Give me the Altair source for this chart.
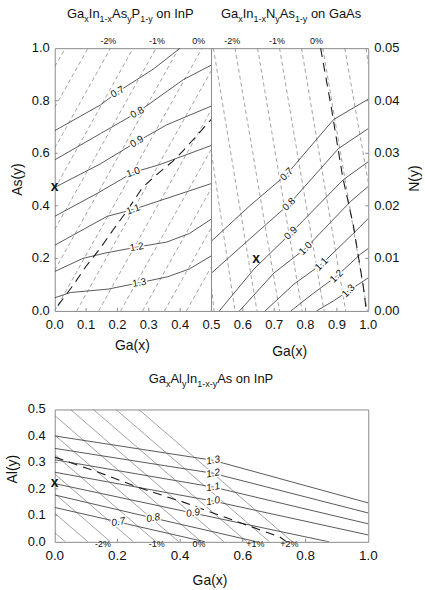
import altair as alt
import pandas as pd

FONT = "Liberation Sans"
SOLID = "#474747"
THIN = "#7a7a7a"
LONG = "#1a1a1a"
FRAME = "#8a8a8a"
INK = "#111111"
LEVELS = ["0.7", "0.8", "0.9", "1.0", "1.1", "1.2", "1.3"]

# ---------------- Panel A : GaxIn1-xAsyP1-y on InP ----------------
A_gap_x = [
    [0.0, 0.146, 0.20, 0.314, 0.40],
    [0.0, 0.146, 0.263, 0.41, 0.5],
    [0.0, 0.146, 0.262, 0.357, 0.5],
    [0.0, 0.135, 0.25, 0.335, 0.5],
    [0.0, 0.167, 0.25, 0.5],
    [0.0, 0.09, 0.16, 0.262, 0.357, 0.43, 0.5],
    [0.0, 0.05, 0.17, 0.27, 0.36, 0.43, 0.5],
]
A_gap_y = [
    [0.686, 0.784, 0.833, 0.92, 1.0],
    [0.575, 0.675, 0.755, 0.88, 0.936],
    [0.47, 0.56, 0.644, 0.708, 0.78],
    [0.36, 0.447, 0.527, 0.557, 0.63],
    [0.25, 0.36, 0.386, 0.485],
    [0.15, 0.20, 0.22, 0.243, 0.262, 0.295, 0.35],
    [0.05, 0.07, 0.083, 0.107, 0.13, 0.16, 0.21],
]
A_lab_x = [0.20, 0.263, 0.262, 0.25, 0.25, 0.262, 0.27]
A_lab_y = [0.833, 0.755, 0.644, 0.527, 0.386, 0.243, 0.107]
A_st_x1 = [0, 0, 0, 0, 0, 0, 0, 0.07, 0.14, 0.21, 0.28, 0.35, 0.42]
A_st_y1 = [0.93, 0.775, 0.62, 0.465, 0.31, 0.155, 0, 0, 0, 0, 0, 0, 0]
A_st_x2 = [0.034, 0.106, 0.178, 0.25, 0.323, 0.396, 0.47, 0.5, 0.5, 0.5, 0.5, 0.5, 0.5]
A_st_y2 = [1, 1, 1, 1, 1, 1, 1, 0.916, 0.767, 0.617, 0.468, 0.318, 0.169]
A_ld_x = [0.01, 0.06, 0.10, 0.146, 0.187, 0.23, 0.28, 0.326, 0.377, 0.41, 0.47, 0.5]
A_ld_y = [0.02, 0.10, 0.17, 0.24, 0.31, 0.38, 0.47, 0.52, 0.57, 0.61, 0.69, 0.73]
A_cross = [0.0, 0.473]
A_slab = ["-2%", "-1%", "0%"]
A_slab_x = [0.171, 0.326, 0.459]
A_yticks = [0.0, 0.2, 0.4, 0.6, 0.8, 1.0]
A_ylabels = ["0.0", "0.2", "0.4", "0.6", "0.8", "1.0"]

# ---------------- Panel B : GaxIn1-xNyAs1-y on GaAs ----------------
B_gap_x = [
    [0.5, 0.62, 0.74, 0.889, 1.0],
    [0.5, 0.62, 0.747, 0.905, 1.0],
    [0.525, 0.636, 0.753, 0.921, 1.0],
    [0.589, 0.699, 0.80, 0.943, 1.0],
    [0.671, 0.763, 0.851, 0.962, 1.0],
    [0.753, 0.826, 0.899, 0.975, 1.0],
    [0.835, 0.889, 0.937, 1.0],
]
B_gap_y = [
    [0.0133, 0.0199, 0.0260, 0.0364, 0.0403],
    [0.0072, 0.0136, 0.0203, 0.0309, 0.0347],
    [0.0, 0.0080, 0.0148, 0.0250, 0.0284],
    [0.0, 0.0072, 0.0119, 0.0208, 0.0237],
    [0.0, 0.0051, 0.0089, 0.0153, 0.0176],
    [0.0, 0.0034, 0.0066, 0.0108, 0.0119],
    [0.0, 0.0019, 0.0038, 0.0063],
]
B_lab_x = [0.74, 0.747, 0.753, 0.80, 0.851, 0.899, 0.937]
B_lab_y = [0.0260, 0.0203, 0.0148, 0.0119, 0.0089, 0.0066, 0.0038]
B_st_x1 = [0.5, 0.5, 0.506, 0.575, 0.647, 0.717, 0.787, 0.855, 0.925, 0.993]
B_st_y1 = [0.0045, 0.030, 0.05, 0.05, 0.05, 0.05, 0.05, 0.05, 0.05, 0.05]
B_st_x2 = [0.508, 0.575, 0.645, 0.717, 0.789, 0.859, 0.928, 0.997, 1.0, 1.0]
B_st_y2 = [0.0, 0.0, 0.0, 0.0, 0.0, 0.0, 0.0, 0.0, 0.0245, 0.047]
B_ld_x = [0.848, 0.883, 0.918, 0.953, 0.984, 0.994]
B_ld_y = [0.05, 0.0384, 0.0256, 0.0161, 0.0047, 0.0]
B_cross = [0.642, 0.0098]
B_slab = ["-2%", "-1%", "0%"]
B_slab_x = [0.566, 0.709, 0.835]
B_yticks = [0.0, 0.01, 0.02, 0.03, 0.04, 0.05]
B_ylabels = ["0.00", "0.01", "0.02", "0.03", "0.04", "0.05"]

TOP_xticks = [0.0, 0.1, 0.2, 0.3, 0.4, 0.5, 0.6, 0.7, 0.8, 0.9, 1.0]
TOP_xlabels = ["0.0", "0.1", "0.2", "0.3", "0.4", "0.5", "0.6", "0.7", "0.8", "0.9", "1.0"]

# ---------------- Panel C : GaxAlyIn1-x-yAs on InP ----------------
C_gap_x = [
    [0.0, 0.203, 0.48],
    [0.0, 0.314, 0.645],
    [0.0, 0.44, 0.875],
    [0.0, 0.505, 1.0],
    [0.0, 0.505, 1.0],
    [0.0, 0.505, 1.0],
    [0.0, 0.505, 1.0],
]
C_gap_y = [
    [0.13, 0.075, 0.0],
    [0.177, 0.09, 0.0],
    [0.22, 0.109, 0.0],
    [0.263, 0.154, 0.026],
    [0.31, 0.207, 0.068],
    [0.353, 0.259, 0.109],
    [0.40, 0.308, 0.147],
]
C_lab_x = [0.203, 0.314, 0.441, 0.505, 0.505, 0.505, 0.505]
C_lab_y = [0.075, 0.09, 0.109, 0.154, 0.207, 0.259, 0.308]
C_st_x1 = [0, 0, 0, 0, 0, 0, 0, 0.05, 0.123, 0.195, 0.268]
C_st_y1 = [0.034, 0.108, 0.182, 0.256, 0.330, 0.403, 0.477, 0.5, 0.5, 0.5, 0.5]
C_st_x2 = [0.034, 0.106, 0.178, 0.251, 0.323, 0.396, 0.468, 0.54, 0.613, 0.685, 0.758]
C_st_y2 = [0, 0, 0, 0, 0, 0, 0, 0, 0, 0, 0]
C_ld_x = [0.0, 0.146, 0.273, 0.41, 0.505, 0.594, 0.717, 0.74]
C_ld_y = [0.32, 0.26, 0.203, 0.15, 0.109, 0.071, 0.019, 0.0]
C_cross = [0.0, 0.222]
C_slab = ["-2%", "-1%", "0%", "+1%", "+2%"]
C_slab_x = [0.154, 0.325, 0.46, 0.64, 0.748]
C_xticks = [0.0, 0.2, 0.4, 0.6, 0.8, 1.0]
C_xlabels = ["0.0", "0.2", "0.4", "0.6", "0.8", "1.0"]
C_yticks = [0.0, 0.1, 0.2, 0.3, 0.4, 0.5]
C_ylabels = ["0.0", "0.1", "0.2", "0.3", "0.4", "0.5"]

A_title = [("Ga", 0), ("x", 1), ("In", 0), ("1-x", 1), ("As", 0), ("y", 1), ("P", 0), ("1-y", 1), (" on InP", 0)]
B_title = [("Ga", 0), ("x", 1), ("In", 0), ("1-x", 1), ("N", 0), ("y", 1), ("As", 0), ("1-y", 1), (" on GaAs", 0)]
C_title = [("Ga", 0), ("x", 1), ("Al", 0), ("y", 1), ("In", 0), ("1-x-y", 1), ("As", 0), (" on InP", 0)]

# ---------------- helpers ----------------
CW = {'G': 778, 'a': 556, 'x': 500, 'I': 278, 'n': 556, '1': 556, '-': 333, 'A': 667,
      's': 500, 'y': 500, 'P': 667, ' ': 278, 'o': 556, 'N': 722, 'l': 222}


def tw(s, fs):
    return sum(CW.get(c, 556) for c in s) * fs / 1000.0


def sc(dom):
    return alt.Scale(domain=dom, nice=False, zero=False)


XS = sc([0, 1])


def X():
    return alt.X("x:Q", scale=XS, axis=None)


def line_df(xs, ys):
    rows = []
    for lv, xl, yl in zip(LEVELS, xs, ys):
        for i, (a, b) in enumerate(zip(xl, yl)):
            rows.append({"lvl": lv, "i": i, "x": a, "y": b})
    return pd.DataFrame(rows)


def lab_df(xs, ys, idx):
    return pd.DataFrame({"x": [xs[i] for i in idx], "y": [ys[i] for i in idx],
                         "t": [LEVELS[i] for i in idx]})


def txt(t, x, y, size=14, angle=None, align="center", baseline="middle"):
    kw = dict(font=FONT, fontSize=size, align=align, baseline=baseline, color=INK)
    if angle is not None:
        kw["angle"] = angle
    return alt.Chart(pd.DataFrame({"t": [t]})).mark_text(**kw).encode(
        x=alt.value(x), y=alt.value(y), text="t:N")


def title_layers(pieces, cx, base, fs=13, fss=9):
    widths = [tw(t, fss if s else fs) for t, s in pieces]
    x = cx - sum(widths) / 2.0
    out = []
    for (t, s), wd in zip(pieces, widths):
        tt = t.lstrip(" ")
        size = fss if s else fs
        off = wd - tw(tt, size)
        out.append(txt(tt, x + off, base + (4 if s else 0), size=size, align="left",
                       baseline="alphabetic"))
        x += wd
    return out


def data_layers(ydom, h, st, gx, gy, labels, ldx, ldy, cross, slab, slab_x, slab_y,
                dash, ital="normal"):
    ys = sc(ydom)

    def Y():
        return alt.Y("y:Q", scale=ys, axis=None)

    L = []
    sdf = pd.DataFrame({"x": st[0], "y": st[1], "x2": st[2], "y2": st[3]})
    rule_kw = dict(color=THIN, strokeWidth=0.7, clip=True)
    if dash:
        rule_kw["strokeDash"] = [4, 3]
    L.append(alt.Chart(sdf).mark_rule(**rule_kw).encode(x=X(), y=Y(), x2="x2:Q", y2="y2:Q"))
    L.append(alt.Chart(line_df(gx, gy)).mark_line(color=SOLID, strokeWidth=0.9, clip=True)
             .encode(x=X(), y=Y(), detail="lvl:N", order="i:Q"))
    L.append(alt.Chart(pd.DataFrame({"x": ldx, "y": ldy})).mark_line(
        color=LONG, strokeWidth=1.1, strokeDash=[9, 6], clip=True).encode(x=X(), y=Y()))
    for df, ang in labels:
        L.append(alt.Chart(df).mark_text(font=FONT, fontSize=10, angle=ang, fontStyle=ital,
                                         color="white", stroke="white", strokeWidth=3)
                 .encode(x=X(), y=Y(), text="t:N"))
        L.append(alt.Chart(df).mark_text(font=FONT, fontSize=10, angle=ang, fontStyle=ital,
                                         color=INK).encode(x=X(), y=Y(), text="t:N"))
    L.append(alt.Chart(pd.DataFrame({"x": slab_x, "t": slab})).mark_text(
        font=FONT, fontSize=9, color=INK).encode(x=X(), y=alt.value(slab_y), text="t:N"))
    L.append(alt.Chart(pd.DataFrame({"x": [cross[0]], "y": [cross[1]], "t": ["x"]})).mark_text(
        font=FONT, fontSize=14, fontWeight="bold", color=INK).encode(x=X(), y=Y(), text="t:N"))
    return L, Y


def xlabels(ticks, labels, y, size=13):
    return alt.Chart(pd.DataFrame({"x": ticks, "t": labels})).mark_text(
        font=FONT, fontSize=size, color=INK, baseline="middle").encode(
        x=X(), y=alt.value(y), text="t:N")


def ylabels(Y, ticks, labels, x, align, size=13):
    return alt.Chart(pd.DataFrame({"y": ticks, "t": labels})).mark_text(
        font=FONT, fontSize=size, color=INK, align=align, baseline="middle").encode(
        y=Y(), x=alt.value(x), text="t:N")


def xtick_marks(ticks, h):
    return alt.Chart(pd.DataFrame({"x": ticks})).mark_rule(color=FRAME).encode(
        x=X(), y=alt.value(h), y2=alt.value(h - 3))


def ytick_marks(Y, ticks, x0, x1):
    return alt.Chart(pd.DataFrame({"y": ticks})).mark_rule(color=FRAME).encode(
        y=Y(), x=alt.value(x0), x2=alt.value(x1))


W, H_TOP, H_BOT = 315, 264, 133

# ---------------- top (A + B share a continuous Ga(x) axis) ----------------
LA, YA = data_layers([0, 1], H_TOP, (A_st_x1, A_st_y1, A_st_x2, A_st_y2), A_gap_x, A_gap_y,
                     [(lab_df(A_lab_x, A_lab_y, [0, 1, 2]), 330),
                      (lab_df(A_lab_x, A_lab_y, [3, 4]), 340),
                      (lab_df(A_lab_x, A_lab_y, [5, 6]), 350)],
                     A_ld_x, A_ld_y, A_cross, A_slab, A_slab_x, -7.5, dash=True)
LB, YB = data_layers([0, 0.05], H_TOP, (B_st_x1, B_st_y1, B_st_x2, B_st_y2), B_gap_x, B_gap_y,
                     [(lab_df(B_lab_x, B_lab_y, list(range(7))), 315)],
                     B_ld_x, B_ld_y, B_cross, B_slab, B_slab_x, -7.5, dash=True)

top_layers = LA + LB
top_layers.append(alt.Chart(pd.DataFrame({"x": [0.5]})).mark_rule(color=FRAME).encode(
    x=X(), y=alt.value(0), y2=alt.value(H_TOP)))
top_layers.append(xtick_marks([0.1, 0.2, 0.3, 0.4, 0.6, 0.7, 0.8, 0.9], H_TOP))
top_layers.append(ytick_marks(YA, [0.2, 0.4, 0.6, 0.8], 0, 3))
top_layers.append(ytick_marks(YB, [0.01, 0.02, 0.03, 0.04], W, W - 3))
top_layers.append(xlabels(TOP_xticks, TOP_xlabels, 278))
top_layers.append(ylabels(YA, A_yticks, A_ylabels, -5, "right"))
top_layers.append(ylabels(YB, B_yticks, B_ylabels, 321, "left"))
top_layers.append(txt("As(y)", -37, 132, angle=270))
top_layers.append(txt("N(y)", 362, 131, angle=270))
top_layers.append(txt("Ga(x)", 78, 299))
top_layers.append(txt("Ga(x)", 236, 305))
top_layers += title_layers(A_title, 76, -30)
top_layers += title_layers(B_title, 237.5, -30)
top_layers.append(alt.Chart(pd.DataFrame({"a": [0]})).mark_rule(opacity=0, color="white")
                  .encode(x=alt.value(-54), x2=alt.value(371), y=alt.value(-46), y2=alt.value(544)))

top = alt.layer(*top_layers).resolve_scale(y="independent").properties(width=W, height=H_TOP)

# ---------------- bottom (C) ----------------
LC, YC = data_layers([0, 0.5], H_BOT, (C_st_x1, C_st_y1, C_st_x2, C_st_y2), C_gap_x, C_gap_y,
                     [(lab_df(C_lab_x, C_lab_y, list(range(7))), 350)],
                     C_ld_x, C_ld_y, C_cross, C_slab, C_slab_x, 135.5, dash=False, ital="italic")
bot_layers = LC
bot_layers.append(xtick_marks([0.2, 0.4, 0.6, 0.8], H_BOT))
bot_layers.append(ytick_marks(YC, [0.1, 0.2, 0.3, 0.4], 0, 3))
bot_layers.append(xlabels(C_xticks, C_xlabels, 147, size=13.5))
bot_layers.append(ylabels(YC, C_yticks, C_ylabels, -9, "right"))
bot_layers.append(txt("Al(y)", -42, 60, angle=270))
bot_layers.append(txt("Ga(x)", 156, 172))
bot_layers += title_layers(C_title, 157, -27)

bot = alt.layer(*bot_layers).resolve_scale(y="independent").properties(width=W, height=H_BOT)

chart = alt.vconcat(top, bot, spacing=99, bounds="flush").properties(padding=0).configure_view(
    stroke=FRAME, strokeWidth=1)

chart.save("out.html", embed_options={"renderer": "svg", "actions": False})
